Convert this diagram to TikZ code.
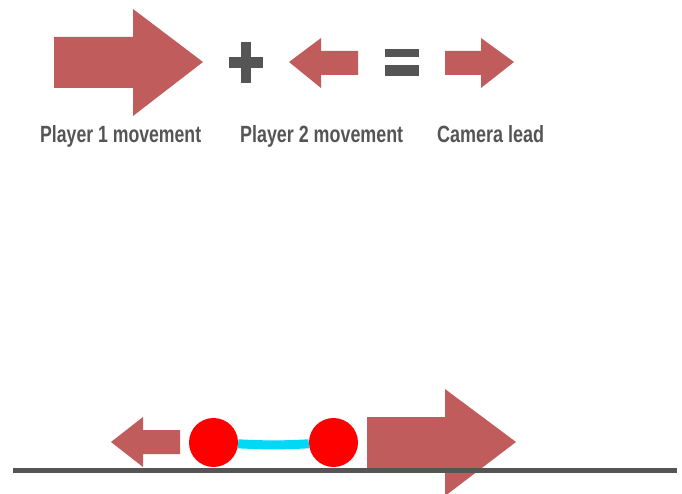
\documentclass[tikz,border=0pt]{standalone}
\usepackage{fontspec}
\usepackage{graphicx}
\newfontfamily\labfont{Liberation Sans}
\definecolor{arrowred}{HTML}{C05C5C}
\definecolor{opgray}{HTML}{555555}
\definecolor{linkcyan}{HTML}{00D8F6}
\definecolor{ballred}{HTML}{FF0000}
\tikzset{
  bigarrow/.style={fill=arrowred, draw=none},
  opsign/.style={fill=opgray, draw=none},
  lab/.style={anchor=base west, inner sep=0pt, text=opgray, font=\labfont\bfseries},
  ball/.style={circle, fill=ballred, draw=none, minimum size=49pt, inner sep=0pt},
}
\begin{document}
\begin{tikzpicture}[x=1pt,y=-1pt]
\useasboundingbox[fill=white] (0,0) rectangle (682,494);
% top row
\fill[bigarrow] (54,37) -- (133,37) -- (133,9) -- (203,62) -- (133,116) -- (133,88) -- (54,88) -- cycle;
\fill[opsign] (229,57) rectangle (263,68);
\fill[opsign] (241,42) rectangle (251,83);
\fill[bigarrow] (358,51) -- (321,51) -- (321,38) -- (289,62) -- (321,88) -- (321,75) -- (358,75) -- cycle;
\fill[opsign] (385,49) rectangle (419,57);
\fill[opsign] (385,65) rectangle (419,76);
\fill[bigarrow] (445,51) -- (481,51) -- (481,38) -- (514,62) -- (481,88) -- (481,75) -- (445,75) -- cycle;
\node[lab] (p1) at (40,143) {\resizebox{161pt}{17pt}{Player 1 movement}};
\node[lab] (p2) at (240,143) {\resizebox{163pt}{17pt}{Player 2 movement}};
\node[lab] (cam) at (437,143) {\resizebox{107pt}{17pt}{Camera lead}};
% bottom scene
\fill[bigarrow] (180,430) -- (143,430) -- (143,417) -- (111,442) -- (143,467) -- (143,454) -- (180,454) -- cycle;
\fill[bigarrow] (367,417) -- (445,417) -- (445,389) -- (516,442) -- (445,496) -- (445,468) -- (367,468) -- cycle;
\node[ball] (b1) at (213.5,442.5) {};
\node[ball] (b2) at (333.5,442.5) {};
\draw[linkcyan, line width=9pt] (b1) to[bend right=3] (b2);
\draw[opgray, line width=5pt] (13,470.5) -- (677,470.5);
\end{tikzpicture}
\end{document}
